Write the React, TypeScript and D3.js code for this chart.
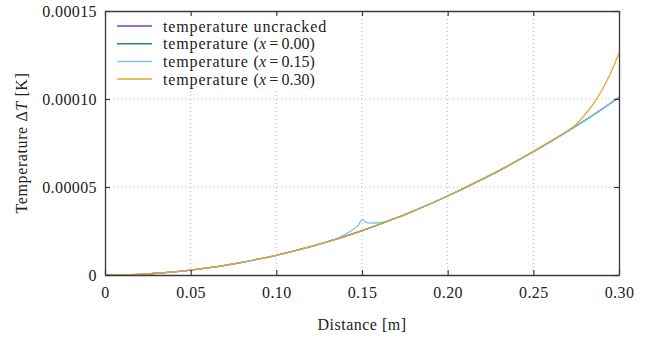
import React, { useRef, useEffect } from "react";
import * as d3 from "d3";

// distance along the beam [m]
const distance = [0, 0.01, 0.02, 0.03, 0.04, 0.05, 0.06, 0.07, 0.08, 0.09, 0.1, 0.11, 0.12, 0.13, 0.14, 0.15,
    0.16, 0.17, 0.18, 0.19, 0.2, 0.21, 0.22, 0.23, 0.24, 0.25, 0.26, 0.27, 0.28, 0.29, 0.3];
// uncracked temperature rise, in units of 1e-5 K
const uncracked = [0, 0.01, 0.04, 0.1, 0.18, 0.28, 0.4, 0.55, 0.72, 0.91, 1.12, 1.36, 1.61, 1.89, 2.19, 2.52,
    2.87, 3.24, 3.63, 4.05, 4.49, 4.95, 5.43, 5.93, 6.46, 7.01, 7.58, 8.17, 8.78, 9.42, 10.1];
// crack at x = 0.00 : no visible change
const crack000 = uncracked.slice();
// crack at x = 0.15 : local bump around the crack
const crack015X = [0.13, 0.135, 0.14, 0.145, 0.148, 0.15, 0.152, 0.155, 0.16, 0.165, 0.17];
const crack015Y = [1.89, 2.06, 2.3, 2.6, 2.85, 3.16, 3.02, 2.95, 2.97, 3.08, 3.24];
// crack at x = 0.30 : rise at the end
const crack030X = [0.265, 0.27, 0.275, 0.28, 0.285, 0.29, 0.295, 0.3];
const crack030Y = [7.88, 8.2, 8.55, 9.1, 9.72, 10.5, 11.45, 12.6];

const xTicks = [0, 0.05, 0.1, 0.15, 0.2, 0.25, 0.3];
const yTicks = [0, 0.00005, 0.0001, 0.00015];
const yTickLabels = ["0", "0.00005", "0.00010", "0.00015"];

const legendNames = ["temperature uncracked", "temperature (x = 0.00)", "temperature (x = 0.15)", "temperature (x = 0.30)"];
const crackPos = ["", "0.00", "0.15", "0.30"];
const colors = ["#8a3cc8", "#1f8f5f", "#7cc4ee", "#e3a535"];

const W = 649, H = 339;
const margin = { top: 11, right: 30, bottom: 64, left: 105 };

function buildSeries() {
    const base = distance.map((d, i) => [d, uncracked[i] * 1e-5]);
    const s0 = distance.map((d, i) => [d, crack000[i] * 1e-5]);
    const bump = crack015X.map((d, i) => [d, crack015Y[i] * 1e-5]);
    const s15 = base.filter(p => p[0] < 0.13).concat(bump, base.filter(p => p[0] > 0.17));
    const end = crack030X.map((d, i) => [d, crack030Y[i] * 1e-5]);
    const s30 = base.filter(p => p[0] < 0.265).concat(end);
    return [base, s0, s15, s30];
}

const App = () => {
    const svgRef = useRef(null);

    useEffect(() => {
        const svg = d3.select(svgRef.current);
        svg.selectAll("*").remove();
        const iw = W - margin.left - margin.right;
        const ih = H - margin.top - margin.bottom;
        const font = "'Liberation Serif', 'DejaVu Serif', serif";

        const x = d3.scaleLinear().domain([0, 0.3]).range([0, iw]);
        const y = d3.scaleLinear().domain([0, 0.00015]).range([ih, 0]);

        const g = svg.append("g").attr("transform", "translate(" + margin.left + "," + margin.top + ")");

        // dotted grid
        g.selectAll(".gx").data(xTicks.slice(1, -1)).join("line")
            .attr("x1", d => x(d)).attr("x2", d => x(d)).attr("y1", 0).attr("y2", ih)
            .attr("stroke", "#b8b8b8").attr("stroke-dasharray", "1,3");
        g.selectAll(".gy").data(yTicks.slice(1, -1)).join("line")
            .attr("class", "gy")
            .attr("x1", 0).attr("x2", iw).attr("y1", d => y(d)).attr("y2", d => y(d))
            .attr("stroke", "#b8b8b8").attr("stroke-dasharray", "1,3");

        // legend background
        g.append("rect").attr("x", 3).attr("y", 3).attr("width", 204).attr("height", 77).attr("fill", "white");

        const series = buildSeries();
        const ln = d3.line().x(d => x(d[0])).y(d => y(d[1])).curve(d3.curveMonotoneX);
        series.forEach((s, i) => {
            g.append("path").datum(s).attr("d", ln).attr("fill", "none")
                .attr("stroke", colors[i]).attr("stroke-width", 1.3);
        });

        // axes with inward ticks on all sides
        const axFmt = d3.format(".2f");
        const bottom = g.append("g").attr("transform", "translate(0," + ih + ")")
            .call(d3.axisBottom(x).tickValues(xTicks).tickSizeInner(-5).tickSizeOuter(0).tickPadding(12)
                .tickFormat(d => d === 0 ? "0" : axFmt(d)));
        const left = g.append("g")
            .call(d3.axisLeft(y).tickValues(yTicks).tickSizeInner(-5).tickSizeOuter(0).tickPadding(8)
                .tickFormat((d, i) => yTickLabels[i]));
        const top = g.append("g")
            .call(d3.axisTop(x).tickValues(xTicks).tickSizeInner(-5).tickSizeOuter(0).tickFormat(() => ""));
        const right = g.append("g").attr("transform", "translate(" + iw + ",0)")
            .call(d3.axisRight(y).tickValues(yTicks).tickSizeInner(-5).tickSizeOuter(0).tickFormat(() => ""));
        [bottom, left, top, right].forEach(a => {
            a.selectAll("path").attr("stroke", "#3a3a3a").attr("stroke-width", 1.3);
            a.selectAll("line").attr("stroke", "#3a3a3a").attr("stroke-width", 1.2);
            a.selectAll("text").attr("font-family", font).attr("font-size", 16)
                .attr("letter-spacing", 0.4).attr("fill", "#222");
        });

        // legend
        legendNames.forEach((name, i) => {
            const ly = 15 + i * 17.7;
            g.append("line").attr("x1", 12).attr("x2", 47).attr("y1", ly).attr("y2", ly)
                .attr("stroke", colors[i]).attr("stroke-width", 1.5);
            const t = g.append("text").attr("x", 58).attr("y", ly).attr("dy", "0.35em")
                .attr("font-family", font).attr("font-size", 16).attr("fill", "#222");
            if (i === 0) {
                t.attr("letter-spacing", 0.85).text(name);
            } else {
                t.append("tspan").attr("letter-spacing", 0.85).text("temperature ");
                t.append("tspan").text("(");
                t.append("tspan").attr("font-style", "italic").text("x");
                t.append("tspan").text("\u2009=\u2009" + crackPos[i] + ")");
            }
        });

        // axis titles
        svg.append("text").attr("x", margin.left + iw / 2).attr("y", 330)
            .attr("text-anchor", "middle").attr("font-family", font).attr("font-size", 16)
            .attr("letter-spacing", 0.5).attr("fill", "#222")
            .text("Distance [m]");
        const yl = svg.append("text").attr("transform", "translate(27," + (margin.top + ih / 2) + ") rotate(-90)")
            .attr("text-anchor", "middle").attr("font-family", font).attr("font-size", 16)
            .attr("letter-spacing", 0.6).attr("fill", "#222");
        yl.append("tspan").text("Temperature \u0394");
        yl.append("tspan").attr("font-style", "italic").text("T");
        yl.append("tspan").text(" [K]");
    }, []);

    return (
        <div style={{ position: "absolute", left: 0, top: 0 }}>
            <svg ref={svgRef} width={W} height={H} style={{ display: "block", background: "white" }} />
        </div>
    );
};

export default App;
